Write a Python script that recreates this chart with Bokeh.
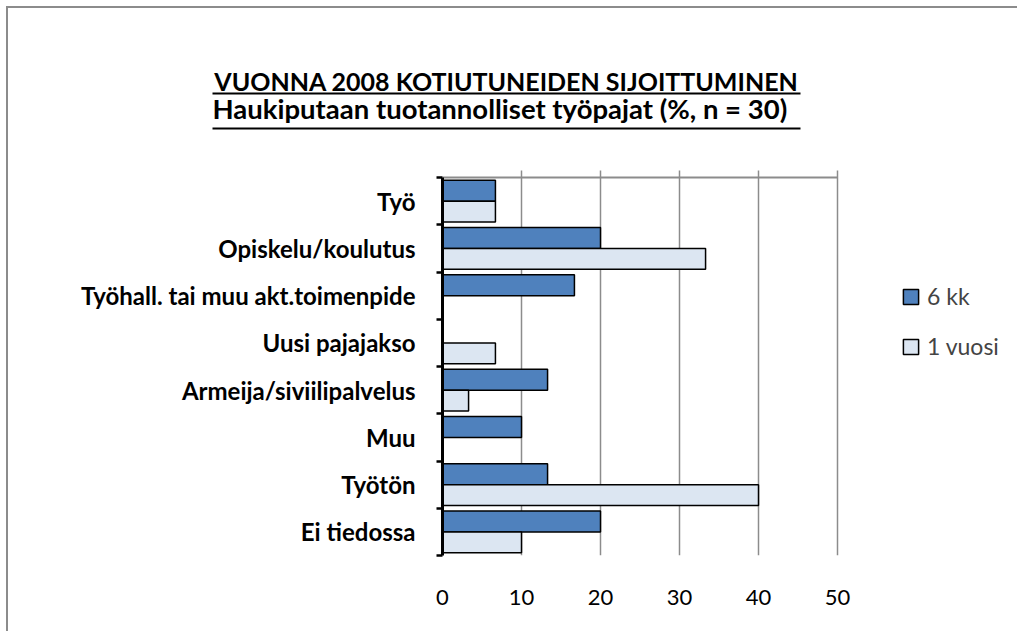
from bokeh.plotting import figure
from bokeh.models import (Range1d, FixedTicker, Label, BoxAnnotation, Legend, LegendItem,
                          ColumnDataSource, Grid)
from bokeh.transform import dodge
from bokeh.embed import file_html
from bokeh.resources import INLINE

# ---- data ----
categories = ["Työ", "Opiskelu/koulutus", "Työhall. tai muu akt.toimenpide", "Uusi pajajakso",
              "Armeija/siviilipalvelus", "Muu", "Työtön", "Ei tiedossa"]
six_months = [6.7, 20.0, 16.7, 0.0, 13.3, 10.0, 13.3, 20.0]
one_year = [6.7, 33.3, 0.0, 6.7, 3.3, 0.0, 40.0, 10.0]
series_names = ["6 kk", "1 vuosi"]
x_ticks = [0, 10, 20, 30, 40, 50]
title_lines = ["VUONNA 2008 KOTIUTUNEIDEN SIJOITTUMINEN",
               "Haukiputaan tuotannolliset työpajat  (%,  n = 30)"]

N = len(categories)
XMAX = x_ticks[-1]
positions = [N - i - 0.5 for i in range(N)]      # first category on top
boundaries = list(range(N + 1))

# ---- layout (page pixels) ----
FONT = "Lato"
OFF = 8                       # canvas origin on the page (after 6px margin + 2px border)
W = 1011
HT = 142                      # title strip height
HC = 483                      # chart height
FX0, FX1 = 442, 837           # page x of value 0 and value 50
FY0, FY1 = 557, 179           # page y of bottom and top of the category area
PX_X = (FX1 - FX0) / XMAX
PX_Y = (FY0 - FY1) / N
CTOP = OFF + HT               # page y of chart canvas top
ML = FX0 - OFF
MB = (CTOP + HC) - FY0
x_end = (OFF + W - FX0) / PX_X
y_end = (FY0 - CTOP) / PX_Y
BORDER = "2px solid #8c8c8c"

# ---- title strip ----
t = figure(width=W, height=HT, output_backend="svg", toolbar_location=None,
           x_range=Range1d(0, W), y_range=Range1d(0, HT),
           x_axis_location=None, y_axis_location=None,
           min_border_left=0, min_border_right=0, min_border_top=0, min_border_bottom=0)
t.grid.visible = False
t.outline_line_color = None
t.background_fill_color = "white"
t.border_fill_color = "white"
t.styles = {"margin-left": "6px", "margin-top": "6px", "border-left": BORDER, "border-top": BORDER}

def tx(px):
    return px - OFF
def ty(py):
    return CTOP - py

for line, base, ul_y, size in zip(title_lines, [80, 108], [92, 127], ["25px", "27.5px"]):
    t.add_layout(Label(x=tx(506), y=ty(base), text=line, text_align="center",
                       text_baseline="alphabetic", text_font=FONT, text_font_style="bold",
                       text_font_size=size, text_color="black"))
    t.add_layout(BoxAnnotation(left=tx(212), right=tx(800), top=ty(ul_y), bottom=ty(ul_y + 2),
                               fill_color="black", fill_alpha=1, line_color=None))

# ---- chart ----
p = figure(width=W, height=HC, output_backend="svg", toolbar_location=None,
           x_range=Range1d(0, x_end), y_range=Range1d(0, y_end),
           min_border_left=ML, min_border_top=0, min_border_right=0, min_border_bottom=MB)
p.outline_line_color = None
p.background_fill_color = "white"
p.border_fill_color = "white"
p.styles = {"margin-left": "6px", "border-left": BORDER}

src = ColumnDataSource(dict(pos=positions, cat=categories, a=six_months, b=one_year))
r1 = p.hbar(y=dodge("pos", 0.22), right="a", left=0, height=0.44, source=src,
            fill_color="#4F81BD", line_color="black", line_width=1.5)
r2 = p.hbar(y=dodge("pos", -0.22), right="b", left=0, height=0.44, source=src,
            fill_color="#DCE6F2", line_color="black", line_width=1.5)

# x axis
p.xaxis.ticker = FixedTicker(ticks=x_ticks)
p.xaxis.axis_line_color = None
p.xaxis.major_tick_line_color = None
p.xaxis.minor_tick_line_color = None
p.xaxis.major_tick_out = 0
p.xaxis.major_label_standoff = 34
p.xaxis.major_label_text_font = FONT
p.xaxis.major_label_text_font_size = "22px"
p.xaxis.major_label_text_color = "black"

GRID_COLOR = "#8c8c8c"
if "cross_bounds" in Grid.properties():
    p.xgrid.ticker = FixedTicker(ticks=x_ticks)
    p.xgrid.cross_bounds = (0, N + 7 / PX_Y)
    p.xgrid.grid_line_color = GRID_COLOR
    p.xgrid.grid_line_width = 1.5
    p.ygrid.ticker = FixedTicker(ticks=[N])
    p.ygrid.cross_bounds = (0, XMAX)
    p.ygrid.grid_line_color = GRID_COLOR
    p.ygrid.grid_line_width = 2
else:
    p.grid.visible = False
    p.segment(x0=x_ticks, y0=0, x1=x_ticks, y1=N + 7 / PX_Y, line_color=GRID_COLOR,
              line_width=1.5, level="underlay")
    p.segment(x0=0, y0=N, x1=XMAX, y1=N, line_color=GRID_COLOR, line_width=2, level="underlay")

# y axis: labels at category centres, boundary ticks as minor ticks
p.yaxis.ticker = FixedTicker(ticks=positions, minor_ticks=boundaries)
p.yaxis.bounds = (0, N)
p.yaxis.major_label_overrides = {pos: cat for pos, cat in zip(positions, categories)}
p.yaxis.axis_line_color = "black"
p.yaxis.axis_line_width = 3
p.yaxis.major_tick_line_color = None
p.yaxis.major_tick_out = 0
p.yaxis.major_tick_in = 0
p.yaxis.minor_tick_line_color = "black"
p.yaxis.minor_tick_line_width = 2.5
p.yaxis.minor_tick_in = 0
p.yaxis.minor_tick_out = 6
p.yaxis.major_label_standoff = 21
p.yaxis.major_label_text_font = FONT
p.yaxis.major_label_text_font_style = "bold"
p.yaxis.major_label_text_font_size = "24px"
p.yaxis.major_label_text_color = "black"

legend = Legend(items=[LegendItem(label=series_names[0], renderers=[r1]),
                       LegendItem(label=series_names[1], renderers=[r2])],
                location=(901 - FX0, FY0 - 363), glyph_width=19, glyph_height=19, label_standoff=7,
                label_text_font=FONT, label_text_font_size="23px", label_height=30,
                spacing=20, padding=0, margin=0, border_line_color=None,
                background_fill_alpha=0)
p.add_layout(legend)

open("out.html", "w").write(file_html([t, p], INLINE))
